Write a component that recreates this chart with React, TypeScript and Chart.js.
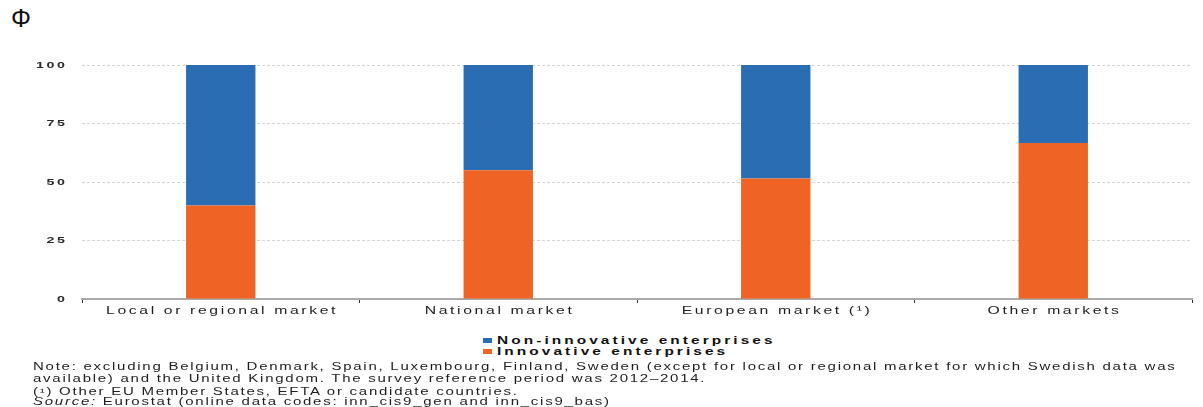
import React, { useEffect, useRef } from "react";
import { Chart, registerables } from "chart.js";

Chart.register(...registerables);

const categories = [
  "Local or regional market",
  "National market",
  "European market (¹)",
  "Other markets",
];
const innovative = [40, 55, 51.5, 66.7];
const nonInnovative = [60, 45, 48.5, 33.3];
const yTicks = [0, 25, 50, 75, 100];

const seriesNames = ["Non-innovative enterprises", "Innovative enterprises"];
const BLUE = "#2A6DB3";
const ORANGE = "#EF6424";
const FONT = "'Liberation Sans', Arial, sans-serif";

const noteLines = [
  "Note: excluding Belgium, Denmark, Spain, Luxembourg, Finland, Sweden (except for local or regional market for which Swedish data was",
  "available) and the United Kingdom. The survey reference period was 2012–2014.",
  "(¹) Other EU Member States, EFTA or candidate countries.",
];

const SX = 1.5;

const labelPlugin = {
  id: "wideLabels",
  afterDraw(chart: any) {
    const ctx = chart.ctx;
    const xs = chart.scales.x;
    const ys = chart.scales.y;
    ctx.save();
    // x labels
    ctx.fillStyle = "#1e1e1e";
    ctx.font = `10.5px ${FONT}`;
    ctx.textBaseline = "middle";
    ctx.textAlign = "left";
    const lsx = 1.75;
    ctx.letterSpacing = `${lsx}px`;
    xs.ticks.forEach((t: any, i: number) => {
      const label = String(xs.getLabelForValue(t.value));
      const w = ctx.measureText(label).width - lsx;
      const x = xs.getPixelForTick(i);
      ctx.save();
      ctx.translate(x - (w * SX) / 2, xs.top + 12);
      ctx.scale(SX, 1);
      ctx.fillText(label, 0, 0);
      ctx.restore();
    });
    // y labels
    ctx.fillStyle = "#2a2a2a";
    ctx.font = `bold 9.5px ${FONT}`;
    const lsy = 1.7;
    ctx.letterSpacing = `${lsy}px`;
    ys.ticks.forEach((t: any) => {
      const label = String(t.value);
      const w = ctx.measureText(label).width - lsy;
      const y = ys.getPixelForValue(t.value);
      ctx.save();
      ctx.translate(65 - w * SX, y);
      ctx.scale(SX, 1);
      ctx.fillText(label, 0, 0);
      ctx.restore();
    });
    ctx.restore();
  },
};

function Wide({ children, sx, ls }: { children: any; sx: number; ls: number }) {
  return (
    <span
      style={{
        display: "inline-block",
        transform: `scaleX(${sx})`,
        transformOrigin: "0 0",
        letterSpacing: `${ls}px`,
        whiteSpace: "nowrap",
      }}
    >
      {children}
    </span>
  );
}

export default function App() {
  const ref = useRef<HTMLCanvasElement | null>(null);
  useEffect(() => {
    if (!ref.current) return;
    const chart = new Chart(ref.current, {
      type: "bar",
      data: {
        labels: categories,
        datasets: [
          {
            label: seriesNames[1],
            data: innovative,
            backgroundColor: ORANGE,
            barPercentage: 0.25,
            categoryPercentage: 1,
          },
          {
            label: seriesNames[0],
            data: nonInnovative,
            backgroundColor: BLUE,
            barPercentage: 0.25,
            categoryPercentage: 1,
          },
        ],
      },
      options: {
        animation: false,
        responsive: false,
        maintainAspectRatio: false,
        layout: { padding: { top: 65, right: 11, left: 0, bottom: 0 } },
        plugins: { legend: { display: false }, tooltip: { enabled: false } },
        scales: {
          x: {
            stacked: true,
            offset: true,
            afterFit: (s: any) => {
              s.height = 31;
            },
            grid: {
              display: true,
              offset: true,
              drawOnChartArea: false,
              drawTicks: true,
              tickLength: 4,
              color: "#333",
            },
            border: { display: true, color: "#aaa", width: 2 },
            ticks: { display: false, autoSkip: false, maxRotation: 0 },
          },
          y: {
            stacked: true,
            min: 0,
            max: 100,
            afterFit: (s: any) => {
              s.width = 82;
            },
            afterBuildTicks: (s: any) => {
              s.ticks = yTicks.map((v) => ({ value: v }));
            },
            grid: {
              drawTicks: false,
              color: (c: any) => (c.tick && c.tick.value === 0 ? "rgba(0,0,0,0)" : "#d6d6d6"),
              lineWidth: 1,
            },
            border: { display: false, dash: [3, 2] },
            ticks: { display: false },
          },
        },
      },
      plugins: [labelPlugin],
    } as any);
    return () => chart.destroy();
  }, []);

  const legendItem = (color: string, text: string) => (
    <div style={{ display: "flex", alignItems: "center", height: 11 }}>
      <span
        style={{
          display: "inline-block",
          width: 9,
          height: 5,
          background: color,
          marginRight: 5,
          flex: "none",
        }}
      />
      <Wide sx={1.4} ls={2.2}>
        {text}
      </Wide>
    </div>
  );

  const noteLine = (top: number, content: any) => (
    <div style={{ position: "absolute", left: 0, top, height: 12, lineHeight: "12px" }}>
      <Wide sx={SX} ls={1.16}>{content}</Wide>
    </div>
  );

  return (
    <div
      style={{
        position: "absolute",
        left: 0,
        top: 0,
        width: 1203,
        height: 407,
        background: "#fff",
        overflow: "hidden",
        fontFamily: FONT,
        color: "#111",
      }}
    >
      <div
        style={{
          position: "absolute",
          left: 11,
          top: 6,
          fontSize: 25,
          lineHeight: "25px",
        }}
      >
        Φ
      </div>
      <canvas
        ref={ref}
        width={1203}
        height={330}
        style={{ position: "absolute", left: 0, top: 0, width: 1203, height: 330 }}
      />
      <div
        style={{
          position: "absolute",
          left: 483,
          top: 335,
          fontSize: 11,
          lineHeight: "11px",
          fontWeight: "bold",
          color: "#111",
        }}
      >
        {legendItem(BLUE, seriesNames[0])}
        {legendItem(ORANGE, seriesNames[1])}
      </div>
      <div
        style={{
          position: "absolute",
          left: 33,
          top: 0,
          width: 1170,
          height: 407,
          fontSize: 10,
          color: "#1e1e1e",
        }}
      >
        {noteLine(361, noteLines[0])}
        {noteLine(373, noteLines[1])}
        {noteLine(386, noteLines[2])}
        {noteLine(396, (
          <>
            <i>Source:</i> Eurostat (online data codes: inn_cis9_gen and inn_cis9_bas)
          </>
        ))}
      </div>
    </div>
  );
}
